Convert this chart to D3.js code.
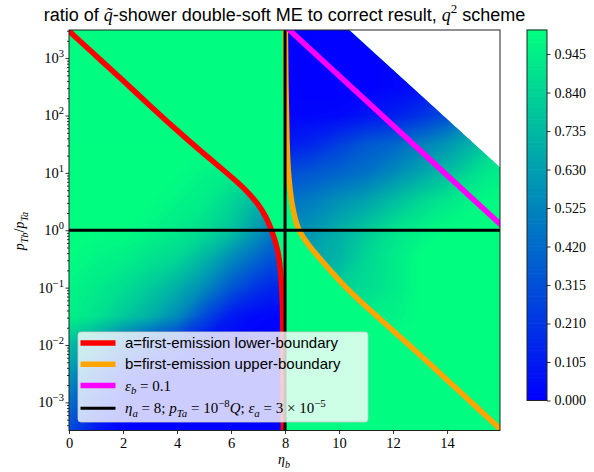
<!DOCTYPE html>
<html>
<head>
<meta charset="utf-8">
<script src="https://cdn.jsdelivr.net/npm/d3@7"></script>
<style>
body { margin: 0; background: #fff; }
</style>
</head>
<body>
<svg id="chart" width="594" height="472"></svg>
<script>
// ratio field, rows = log10(pTb/pTa), cols = eta_b
var etaA = [0, 1, 2, 3, 4, 5, 6, 7, 7.5, 8];
var logA = [1.5, 1, 0.5, 0, -0.5, -1, -1.5, -2, -2.5, -3, -3.5];
var ratioA = [
    1, 1, 1, 1, 1, 1, 1, 1, 1, 1,
    1, 1, 1, 1, 1, 0.97, 0.93, 0.85, 0.8, 0.8,
    1, 1, 1, 1, 0.97, 0.94, 0.85, 0.72, 0.65, 0.65,
    1, 1, 1, 0.97, 0.93, 0.88, 0.78, 0.6, 0.5, 0.5,
    1, 0.97, 0.95, 0.9, 0.85, 0.72, 0.55, 0.4, 0.33, 0.33,
    0.97, 0.93, 0.88, 0.8, 0.7, 0.55, 0.35, 0.2, 0.15, 0.15,
    0.95, 0.9, 0.8, 0.7, 0.55, 0.3, 0.1, 0.03, 0.02, 0.02,
    0.75, 0.6, 0.4, 0.25, 0.15, 0.05, 0.02, 0, 0, 0,
    0.6, 0.35, 0.15, 0.05, 0.02, 0, 0, 0, 0, 0,
    0.45, 0.2, 0.05, 0, 0, 0, 0, 0, 0, 0,
    0.3, 0.1, 0, 0, 0, 0, 0, 0, 0, 0
];

var etaB = [8, 9, 10, 11, 12, 13, 14, 15, 16];
var logB = [3.6, 3, 2.5, 2, 1.5, 1, 0.5, 0, -0.5, -1, -1.5, -2, -3.6];
var ratioB = [
    0, 0, 0, 0, 0, 0.02, 0.05, 0.1, 0.15,
    0, 0, 0, 0, 0.02, 0.05, 0.1, 0.2, 0.3,
    0, 0, 0, 0, 0.02, 0.05, 0.15, 0.3, 0.45,
    0.02, 0.02, 0.03, 0.08, 0.12, 0.2, 0.3, 0.5, 0.65,
    0.1, 0.15, 0.25, 0.35, 0.4, 0.5, 0.6, 0.72, 0.85,
    0.3, 0.35, 0.4, 0.45, 0.55, 0.65, 0.75, 0.88, 0.95,
    0.45, 0.5, 0.58, 0.65, 0.75, 0.85, 0.92, 0.97, 1,
    0.55, 0.6, 0.7, 0.8, 0.9, 0.96, 1, 1, 1,
    0.62, 0.65, 0.72, 0.85, 0.93, 1, 1, 1, 1,
    0.75, 0.78, 0.82, 0.87, 0.93, 1, 1, 1, 1,
    0.88, 0.9, 0.92, 0.94, 0.96, 1, 1, 1, 1,
    0.95, 0.95, 0.96, 0.98, 1, 1, 1, 1, 1,
    1, 1, 1, 1, 1, 1, 1, 1, 1
];

// curves as [eta_b, log10(pTb/pTa)]
var lowerBoundary = [[-0.05, 3.5], [0, 3.47], [1, 3.04], [2, 2.61], [3, 2.17], [4, 1.74], [4.85, 1.39],
    [5.84, 1.0], [6.58, 0.7], [7.19, 0.35], [7.5, 0.02], [7.75, -0.35], [7.84, -0.7],
    [7.91, -1.22], [7.93, -2], [7.94, -3.6]];
var upperBoundary = [[8.01, 3.6], [8.03, 2.5], [8.07, 1.5], [8.12, 0.96], [8.25, 0.44], [8.4, 0.15],
    [8.5, 0.0], [8.85, -0.25], [9.3, -0.5], [10.22, -1.0], [11.4, -1.5], [12.6, -2.0],
    [13.75, -2.5], [14.9, -3.0], [16.05, -3.5]];
var epsLine = [[8.0, 3.56], [16.1, 0.05]];
var dataEdge = [[10.2, 3.57], [16.1, 1.04]];
var etaA_value = 8;
var pRatio_value = 1;

var legendLabels = [
    [{t: 'a=first-emission lower-boundary', f: 'sans'}],
    [{t: 'b=first-emission upper-boundary', f: 'sans'}],
    [{t: 'ε', f: 'mi'}, {t: 'b', f: 'mi', s: 'sub'}, {t: ' = 0.1', f: 'mr'}],
    [{t: 'η', f: 'mi'}, {t: 'a', f: 'mi', s: 'sub'}, {t: ' = 8; ', f: 'mr'}, {t: 'p', f: 'mi'},
     {t: 'Ta', f: 'mi', s: 'sub'}, {t: ' = 10', f: 'mr'}, {t: '−8', f: 'mr', s: 'sup'}, {t: 'Q', f: 'mi'},
     {t: '; ', f: 'mr'}, {t: 'ε', f: 'mi'}, {t: 'a', f: 'mi', s: 'sub'}, {t: ' = 3 × 10', f: 'mr'},
     {t: '−5', f: 'mr', s: 'sup'}]
];
var legendColors = ['#ff0000', '#ffa500', '#ff00ff', '#000000'];

var xTicks = [0, 2, 4, 6, 8, 10, 12, 14];
var yTickExps = [-3, -2, -1, 0, 1, 2, 3];
var cbTicks = [0, 0.105, 0.21, 0.315, 0.42, 0.525, 0.63, 0.735, 0.84, 0.945];
var cbMax = 1.0106, levelStep = 0.0105;

var SANS = '"Liberation Sans", Arial, sans-serif';
var SERIF = '"Liberation Serif", "Times New Roman", serif';

var svg = d3.select('#chart');
var x = d3.scaleLinear().domain([0, 15.96]).range([69, 500]);
var y = d3.scaleLog().domain([Math.pow(10, -3.49), Math.pow(10, 3.49)]).range([430.5, 30]);
var Y = v => y(Math.pow(10, v));

// winter colormap
var color = v => {
    var t = Math.max(0, Math.min(1, v / cbMax));
    return d3.rgb(0, 255 * t, 255 * (1 - 0.5 * t)).toString();
};
var levels = d3.range(0, cbMax, levelStep);

var defs = svg.append('defs');
defs.append('clipPath').attr('id', 'plotClip')
    .append('rect').attr('x', x(0)).attr('y', 30).attr('width', 500 - x(0)).attr('height', 400.5);

var line = d3.line().x(d => x(d[0])).y(d => Y(d[1])).curve(d3.curveBasis);
var straight = d3.line().x(d => x(d[0])).y(d => Y(d[1]));

// region left of the lower boundary
defs.append('clipPath').attr('id', 'clipA').append('path')
    .attr('d', line(lowerBoundary) + `L${x(7.94)},${Y(-3.6)}L${x(-0.1)},${Y(-3.6)}L${x(-0.1)},${Y(3.6)}Z`);
// region above the upper boundary, below the edge of phase space
defs.append('clipPath').attr('id', 'clipB').append('path')
    .attr('d', line(upperBoundary) + `L${x(16.2)},${Y(-3.5)}L${x(16.2)},${Y(0.98)}` +
        `L${x(dataEdge[0][0])},${Y(dataEdge[0][1])}L${x(8.01)},${Y(3.6)}Z`);

var plot = svg.append('g').attr('clip-path', 'url(#plotClip)');

plot.append('rect').attr('x', x(0)).attr('y', 30).attr('width', 500 - x(0)).attr('height', 400.5)
    .attr('fill', color(1.0));

function gridMap(arr) {
    return function (c) {
        var s = Math.max(0, Math.min(arr.length - 1, c - 0.5));
        var i = Math.min(Math.floor(s), arr.length - 2);
        return arr[i] + (arr[i + 1] - arr[i]) * (s - i);
    };
}

function field(clipId, etas, logs, vals) {
    var fx = gridMap(etas), fy = gridMap(logs);
    var proj = d3.geoTransform({
        point: function (px, py) { this.stream.point(x(fx(px)), Y(fy(py))); }
    });
    var path = d3.geoPath(proj);
    var contours = d3.contours().size([etas.length, logs.length]).thresholds(levels)(vals);
    plot.append('g').attr('clip-path', `url(#${clipId})`)
        .selectAll('path').data(contours).join('path')
        .attr('d', path)
        .attr('fill', d => color(d.value + levelStep / 2));
}
field('clipA', etaA, logA, ratioA);
field('clipB', etaB, logB, ratioB);

// no data beyond the phase-space edge
plot.append('path')
    .attr('d', straight(dataEdge) + `L${x(16.2)},${Y(3.7)}L${x(dataEdge[0][0])},${Y(3.7)}Z`)
    .attr('fill', '#fff');

// curves
plot.append('path').attr('d', line(lowerBoundary)).attr('fill', 'none')
    .attr('stroke', legendColors[0]).attr('stroke-width', 5.5);
plot.append('path').attr('d', line(upperBoundary)).attr('fill', 'none')
    .attr('stroke', legendColors[1]).attr('stroke-width', 5.5);
plot.append('path').attr('d', straight(epsLine)).attr('fill', 'none')
    .attr('stroke', legendColors[2]).attr('stroke-width', 5.5);
plot.append('line').attr('x1', x(etaA_value)).attr('x2', x(etaA_value)).attr('y1', 25).attr('y2', 440)
    .attr('stroke', '#000').attr('stroke-width', 3);
plot.append('line').attr('x1', 60).attr('x2', 510).attr('y1', y(pRatio_value)).attr('y2', y(pRatio_value))
    .attr('stroke', '#000').attr('stroke-width', 3);

// frame
svg.append('rect').attr('x', x(0)).attr('y', 30).attr('width', 500 - x(0)).attr('height', 400.5)
    .attr('fill', 'none').attr('stroke', '#222').attr('stroke-width', 1);

// x axis
var xAxis = svg.append('g').attr('transform', 'translate(0,430.5)')
    .call(d3.axisBottom(x).tickValues(xTicks).tickSize(3.5).tickPadding(4).tickFormat(d3.format('d')));
xAxis.select('.domain').remove();
xAxis.selectAll('text').attr('font-family', SERIF).attr('font-size', 14.5).attr('fill', '#000');

// y axis (log)
var minor = [];
for (var k = -4; k <= 3; k++) for (var m = 2; m <= 9; m++) {
    var v = m * Math.pow(10, k);
    if (y(v) >= 30 && y(v) <= 430.5) minor.push(v);
}
var yMinor = svg.append('g').attr('transform', `translate(${x(0)},0)`)
    .call(d3.axisLeft(y).tickValues(minor).tickSize(2).tickFormat(''));
yMinor.select('.domain').remove();
var yMajor = svg.append('g').attr('transform', `translate(${x(0)},0)`)
    .call(d3.axisLeft(y).tickValues(yTickExps.map(e => Math.pow(10, e))).tickSize(3.5).tickFormat(''));
yMajor.select('.domain').remove();
svg.selectAll('.tick line').attr('stroke', '#000').attr('stroke-width', 0.8);

yTickExps.forEach(function (e) {
    var t = svg.append('text').attr('x', 64).attr('y', Y(e) + 5).attr('text-anchor', 'end')
        .attr('font-family', SERIF).attr('font-size', 14.5);
    t.append('tspan').text('10');
    t.append('tspan').attr('dy', -6).attr('font-size', 10.5).text(e < 0 ? '−' + (-e) : String(e));
});

// axis labels
function mathText(sel, parts, size) {
    var shift = 0;
    parts.forEach(function (p) {
        var s = p.s === 'sub' ? size * 0.25 : p.s === 'sup' ? -size * 0.42 : 0;
        var ts = sel.append('tspan').text(p.t)
            .attr('font-family', p.f === 'sans' ? SANS : SERIF)
            .attr('font-style', p.f === 'mi' ? 'italic' : 'normal')
            .attr('font-size', p.s ? size * 0.72 : size);
        if (s !== shift) ts.attr('dy', s - shift);
        shift = s;
    });
    return sel;
}

mathText(svg.append('text').attr('x', 284).attr('y', 464).attr('text-anchor', 'middle'),
    [{t: 'η', f: 'mi'}, {t: 'b', f: 'mi', s: 'sub'}], 14);
mathText(svg.append('text').attr('transform', 'translate(24,231) rotate(-90)').attr('text-anchor', 'middle'),
    [{t: 'p', f: 'mi'}, {t: 'Tb', f: 'mi', s: 'sub'}, {t: '/', f: 'mr'}, {t: 'p', f: 'mi'}, {t: 'Ta', f: 'mi', s: 'sub'}], 14);

// title
mathText(svg.append('text').attr('x', 284.5).attr('y', 20.5).attr('text-anchor', 'middle'),
    [{t: 'ratio of ', f: 'sans'}, {t: 'q\u0303', f: 'mi'}, {t: '-shower double-soft ME to correct result, ', f: 'sans'},
     {t: 'q', f: 'mi'}, {t: '2', f: 'mr', s: 'sup'}, {t: ' scheme', f: 'sans'}], 18);

// legend
var lg = svg.append('g');
lg.append('rect').attr('x', 78).attr('y', 332).attr('width', 290).attr('height', 90).attr('rx', 3)
    .attr('fill', '#fff').attr('fill-opacity', 0.8).attr('stroke', '#ccc').attr('stroke-opacity', 0.8);
var rowsY = [343, 364.3, 385.5, 408.3];
legendLabels.forEach(function (lab, i) {
    lg.append('line').attr('x1', 80.5).attr('x2', 115.5).attr('y1', rowsY[i]).attr('y2', rowsY[i])
        .attr('stroke', legendColors[i]).attr('stroke-width', i === 3 ? 3 : 5.5);
    mathText(lg.append('text').attr('x', 125).attr('y', rowsY[i] + 5), lab, 15);
});

// colorbar
var cb = d3.scaleLinear().domain([0, cbMax]).range([400.5, 30]);
var cbg = svg.append('g');
cbg.selectAll('rect.band').data(levels).join('rect').attr('class', 'band')
    .attr('x', 527).attr('width', 20)
    .attr('y', d => cb(Math.min(d + levelStep, cbMax)) - 0.3)
    .attr('height', d => cb(d) - cb(Math.min(d + levelStep, cbMax)) + 0.6)
    .attr('fill', d => color(d + levelStep / 2));
cbg.append('rect').attr('x', 527).attr('y', 30).attr('width', 20).attr('height', 370.5)
    .attr('fill', 'none').attr('stroke', '#222').attr('stroke-width', 1);
var cbAxis = cbg.append('g').attr('transform', 'translate(547,0)')
    .call(d3.axisRight(cb).tickValues(cbTicks).tickSize(3.5).tickPadding(4).tickFormat(d3.format('.3f')));
cbAxis.select('.domain').remove();
cbAxis.selectAll('line').attr('stroke', '#000').attr('stroke-width', 0.8);
cbAxis.selectAll('text').attr('font-family', SERIF).attr('font-size', 14).attr('fill', '#000');
</script>
</body>
</html>
